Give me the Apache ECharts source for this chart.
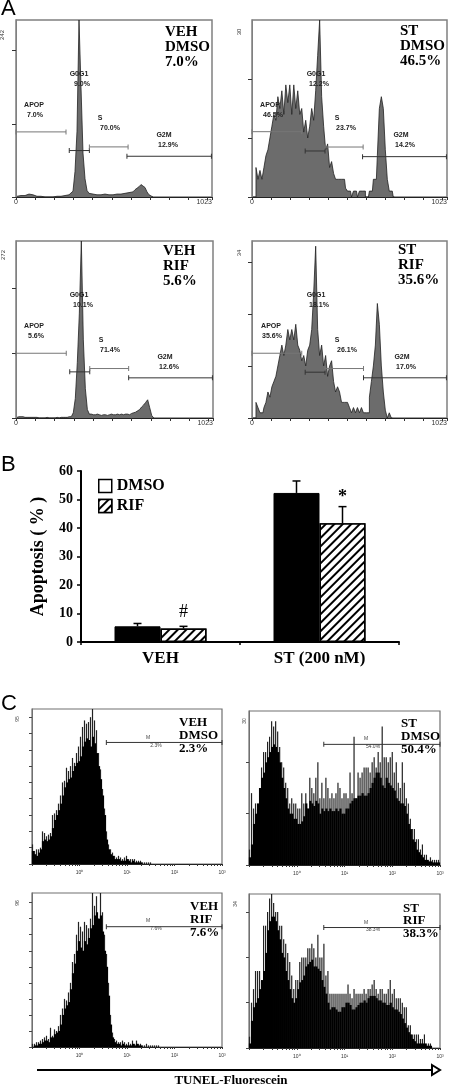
<!DOCTYPE html>
<html><head><meta charset="utf-8">
<style>html,body{margin:0;padding:0;background:#fff}#c{width:450px;height:1086px}</style>
<script src="https://cdn.jsdelivr.net/npm/echarts@6/dist/echarts.min.js"></script>
</head><body><div id="c"></div>
<script>
// Panel A: DNA-content histograms, one count per channel bin (bins start at channel 0)
const aVehDmso=[1,3,2,3,2,3,4,3,3,2,1,1,1,0,0,1,0,0,0,1,1,1,1,2,2,2,3,3,8,35,90,242,150,60,25,9,5,5,4,4,3,4,3,3,4,3,3,4,3,3,4,3,4,4,5,5,6,6,7,10,12,14,17,18,13,7,3,1,0];
const aStDmso=[0,0,5,3,4.5,3,5,7,8,10,12,14,13,17,15,18,14,19,16,19,14,19,15,18,14,15,11,13,10,12,15,13,18,24,30,17,12,8,9,5,6,4,3,3,3,3,3,1.5,1,1,0,1,1,0,1,1,1,0,0,1,1,3,3,7,15,17,15,8,3,1,1,0];
const aVehRif=[1,2,2,2,1,1,1,1,1,1,1,0,0,0,0,1,0,0,0,0,1,0,1,1,1,1,2,2,8,30,85,160,272,120,45,13,6,6,5,5,6,5,4,5,5,4,5,6,5,5,6,5,6,5,6,6,5,7,8,9,11,13,17,20,24,28,16,4,0];
const aStRif=[0,0,3,2,1,1,2,3,5,4,6,7,8,10,12,14,12,14,17,15,17,15,18,14,13,11,12,10,13,14,17,24,33,17,12,14,10,12,8,10,11,7,5,6,5,3,3,3,3,2,1,2,1,2,1,2,1,1,1,4,7,10,14,22,18,10,5,1.5,0,1,0];
const binsA=98;
// Gates: [x start, x end, height]
const gatesVehDmso=[[0,261,89],[278,383,63.5],[383,585,68.5],[579,1020,55.7]];
const gatesStDmso=[[0,261,11.07],[279,383,7.8],[383,583,8.47],[580,1020,6.84]];
const gatesVehRif=[[0,261,99.5],[279,383,70.9],[383,585,76],[585,1020,61.7]];
const gatesStRif=[[0,261,12.44],[279,383,8.8],[383,585,9.5],[585,1020,7.72]];
const ticksA=[[0,100,200],[0,10,20],[0,100,200],[0,10,20,30]];
const maxA=[242,30,272,34];

// Panel B
const groups=['VEH','ST (200 nM)'];
const dmso=[5.5,52.3];
const rif=[4.7,41.7];
const dmsoErrTop=[6.5,56.5];
const rifErrTop=[5.5,47.5];
const rifSig=['#','*'];

// Panel C: TUNEL histograms over 95 log-spaced bins, solid body and spike tops
const cVehDmsoBody=[8,6,5,7,9,14,15,14,15,17,22,27,30,33,37,42,47,50,52,53,57,60,62,63,66,72,75,77,76,72,78,74,68,60,52,42,30,15,9,6,5,3,3,3,2,2,2,3,2,1,2,1,1,1,1];
const cVehDmsoSpike=[12,8,9,9,10,20,19,17,18,19,30,31,33,37,42,50,51,59,57,60,65,62,68,72,78,84,88,86,87,90,95,88,82,68,58,46,34,20,12,9,7,5,4,5,4,3,4,5,3,3,3,3,2,2,2,1,1,1,1,1];
const cStDmsoBody=[1.5,4,8,10,12,15,17,18,20,21,22,23,23.5,23,22,20,17,15,13,11,10,10,9,9,8,8,8.5,9.5,12,11,12.5,12,11.5,12.5,12,10,11,10.5,11,10.5,11,10.5,10.5,11,10.5,11,10,10,11,11,12,12.5,13,13,13.5,13.5,14,13.5,13.5,14,15,16,17,18,18,17,15.5,15,17,16,15.5,15,14.5,13,12.5,12,12,11.5,10,8,7,5,4.5,3,2.5,2,1.5,1,1,.7,.7,.5,.5,.5,.5];
const cStDmsoSpike=[3,14,11,12,11,11,19,22,22,24,25,28,27,28,26,23,20,19,16,15,12,13,12,12,11,11,14,12,14,11,17,15,14,17,20,13,16,13,17,15,13,14,13,14,16,15,13,14,14,13,18,14,25,13,18,17,18,19,19,19,18,20,21,19,22,20,27,21,21,20,21,22,18,20,16,15,20,16,13,12,9,7,7,5,5,3,4,2,2,1,1.5,1,1,1,1];
const cVehRifBody=[0,1,1,2,2,3,4,4,3,6,6,8,9,10,14,20,24,26,28,36,46,52,60,66,62,60,66,64,68,74,76,82,84,80,82,72,60,50,32,14,6,3,2,2,1,2,1,1,1,1,2,1,2,1,1];
const cVehRifSpike=[2,2,3,3,4,5,6,7,5,12,7,11,10,13,20,24,30,29,34,40,53,58,70,78,75,72,78,76,74,80,96,88,94,80,96,84,70,58,40,20,9,5,4,3,3,4,3,2,3,2,4,2,4,2,2,1,1,2,1,1,1,1,1,1];
const cStRifBody=[1,6,9,10,11,13,15,17,21,26,28,29,29,28,26,24,21,20,17,15,13,11,10,11,13,14.5,15,16,18,18.5,19,19.5,18,18,17.5,17,15,13.5,12,10,8.5,9,9,8.5,8,8,9,9,10,10,9.5,8.5,8.5,9,9.5,10,10,10.5,10,11,11.5,11.5,11.5,11,10.5,10.5,10,10,9.5,9.5,10,9,8.5,8.5,8,7.5,6.5,5.5,4.5,3.5,3,2,1.5,1,1,1,1,1,.5,.5,.5];
const cStRifSpike=[2.5,10,13,17,17,17,15,27,27,30,33,34,32,30,30,27,27,24,23,21,19,16,13,15,15,19,20,20,20,22,22,23,22,20,25,20,20,23,16,17,12,12,12,12,12,12,12,12,12,14,12,11,13,12,12,12,12,13,12,13,13,14,15,13,12,13,13,12,12,13,15,12,13,11,11,11,10,9,9,5,5,3,3,3,3,2,2,3,1,1,1];
const binsC=95;
const maxC=[95,30,96,34];
const gateC=[[.565,3,74.5],[.566,3,23.5],[.565,3,75],[.566,3,26.6]];
const ticksC=[[0,10,20,30,40,50,60,70,80,90],[0,10,20],[0,10,20,30,40,50,60,70,80,90],[0,10,20,30]];

const serif='"Liberation Serif"', sans='"Liberation Sans"';
const grid=[],xAxis=[],yAxis=[],series=[],graphic=[];

function txt(x,y,s,font,opt){opt=opt||{};
  graphic.push({type:'text',x,y,rotation:opt.rot||0,silent:true,z:50,style:{text:s,font,fill:opt.fill||'#000',align:opt.align||'center',verticalAlign:'middle'}});
}
function gateSeries(g,gi,color){
  series.push({type:'line',xAxisIndex:gi,yAxisIndex:gi,data:[[g[0],g[2]],[g[1],g[2]]],symbol:'rect',symbolSize:[1,5],
    lineStyle:{color,width:1},itemStyle:{color},silent:true,z:6,animation:false});
}

// ---- Panel A
const aPanels=[
 {d:aVehDmso,g:gatesVehDmso,step:false,box:[16,20,196,177],name:'242',nx:2,ny:35},
 {d:aStDmso,g:gatesStDmso,step:'middle',box:[252,20,196,177],name:'30',nx:239,ny:32},
 {d:aVehRif,g:gatesVehRif,step:false,box:[16,241,197,177],name:'272',nx:3,ny:255},
 {d:aStRif,g:gatesStRif,step:'middle',box:[252,241,197,177],name:'34',nx:239,ny:253}];
aPanels.forEach((p,i)=>{
  grid.push({left:p.box[0],top:p.box[1],width:p.box[2],height:p.box[3],show:true,borderColor:'#808080',borderWidth:1.5,backgroundColor:'#fff'});
  xAxis.push({gridIndex:i,type:'value',min:0,max:1023,interval:100,splitLine:{show:false},
    axisLine:{onZero:false,lineStyle:{color:'#222',width:1}},axisTick:{length:3,lineStyle:{color:'#333'}},
    axisLabel:{customValues:[0,1023],formatter:v=>String(v),alignMaxLabel:'right',fontSize:7,fontFamily:sans,color:'#333',margin:2}});
  yAxis.push({gridIndex:i,type:'value',min:0,max:maxA[i],splitLine:{show:false},
    axisLine:{show:true,onZero:false,lineStyle:{color:'#808080',width:1}},
    axisTick:{show:true,length:4,customValues:ticksA[i],lineStyle:{color:'#333'}},axisLabel:{show:false}});
  series.push({type:'line',xAxisIndex:i,yAxisIndex:i,step:p.step,showSymbol:false,symbol:'none',silent:true,animation:false,
    data:p.d.map((v,k)=>[(k+.5)*1023/binsA,v]),
    lineStyle:{color:'#222',width:.8},areaStyle:{color:'#6c6c6c',opacity:1}});
  p.g.forEach((g,k)=>gateSeries(g,i,k%2?'#333':'#777'));
  txt(p.nx,p.ny,p.name,'6px '+sans,{rot:Math.PI/2,fill:'#333'});
});
// gate captions
const lab='bold 7px '+sans;
[[79,74,'G0G1'],[82,84,'9.0%'],[34,105,'APOP'],[35,115,'7.0%'],[100,118,'S'],[110,128,'70.0%'],[164,135,'G2M'],[168,145,'12.9%'],
 [316,74,'G0G1'],[319,84,'12.2%'],[270,105,'APOP'],[273,115,'46.5%'],[337,118,'S'],[346,128,'23.7%'],[401,135,'G2M'],[405,145,'14.2%'],
 [79,295,'G0G1'],[83,305,'10.1%'],[34,326,'APOP'],[36,336,'5.6%'],[101,340,'S'],[110,350,'71.4%'],[165,357,'G2M'],[169,367,'12.6%'],
 [316,295,'G0G1'],[319,305,'18.1%'],[271,326,'APOP'],[272,336,'35.6%'],[337,340,'S'],[347,350,'26.1%'],[402,357,'G2M'],[406,367,'17.0%']
].forEach(t=>txt(t[0],t[1],t[2],lab,{fill:'#222'}));
const bigA='bold 15px '+serif;
[[165,32,47,62,'VEH','DMSO','7.0%'],[400,31,46,61,'ST','DMSO','46.5%'],[163,251,266,281,'VEH','RIF','5.6%'],[398,250,265,280,'ST','RIF','35.6%']]
 .forEach(t=>{txt(t[0],t[1],t[4],bigA,{align:'left'});txt(t[0],t[2],t[5],bigA,{align:'left'});txt(t[0],t[3],t[6],bigA,{align:'left'});});

// ---- Panel B
const bi=4, barW=46;
grid.push({left:81,top:471,width:318,height:171});
xAxis.push({gridIndex:bi,type:'category',data:groups,axisLine:{lineStyle:{color:'#000',width:2}},
  axisTick:{show:true,length:3,lineStyle:{color:'#000',width:1.5}},
  axisLabel:{margin:8,color:'#000',fontSize:17,fontWeight:'bold',fontFamily:serif}});
yAxis.push({gridIndex:bi,type:'value',min:0,max:60,interval:10,splitLine:{show:false},
  name:'Apoptosis ( % )',nameLocation:'middle',nameRotate:90,nameGap:34,
  nameTextStyle:{fontSize:18,fontWeight:'bold',fontFamily:serif,color:'#000'},
  axisLine:{show:true,lineStyle:{color:'#000',width:2}},axisTick:{show:true,length:4,lineStyle:{color:'#000',width:1.5}},
  axisLabel:{margin:8,color:'#000',fontSize:14,fontWeight:'bold',fontFamily:serif}});
const hatch={symbol:'rect',symbolSize:1,rotation:-Math.PI/4,dashArrayX:[1,0],dashArrayY:[2,3.6],color:'#000',backgroundColor:'#fff'};
series.push({name:'DMSO',type:'bar',xAxisIndex:bi,yAxisIndex:bi,data:dmso,barWidth:barW,barGap:0,animation:false,silent:true,
  itemStyle:{color:'#000',borderColor:'#000',borderWidth:1}});
series.push({name:'RIF',type:'bar',xAxisIndex:bi,yAxisIndex:bi,data:rif,barWidth:barW,barGap:0,animation:false,silent:true,
  itemStyle:{color:'#fff',borderColor:'#000',borderWidth:1.5,decal:hatch}});
function errSeries(tops,side,sig){
  series.push({type:'custom',xAxisIndex:bi,yAxisIndex:bi,silent:true,animation:false,z:5,
    data:tops.map((t,k)=>[k,t,side===1?rif[k]:dmso[k]]),
    renderItem:(params,api)=>{
      const idx=api.value(0),top=api.coord([idx,api.value(1)]),base=api.coord([idx,api.value(2)]);
      const x=top[0]+side*barW/2;
      const st={stroke:'#000',lineWidth:1.5};
      const ch=[{type:'line',shape:{x1:x,y1:base[1],x2:x,y2:top[1]},style:st},
                {type:'line',shape:{x1:x-4,y1:top[1],x2:x+4,y2:top[1]},style:st}];
      if(sig){const s=sig[params.dataIndex];
        ch.push({type:'text',x:x,y:top[1]-(s==='*'?9:14),style:{text:s,font:(s==='*'?'bold 18px ':'18px ')+serif,fill:'#000',align:'center',verticalAlign:'middle'}});}
      return {type:'group',children:ch};
    }});
}
errSeries(dmsoErrTop,-1,null);
errSeries(rifErrTop,1,rifSig);

// ---- Panel C
const cPanels=[
 {b:cVehDmsoBody,s:cVehDmsoSpike,box:[32,709,190,155],name:'95',nx:18,ny:719},
 {b:cStDmsoBody,s:cStDmsoSpike,box:[249,711,191,154],name:'30',nx:245,ny:721},
 {b:cVehRifBody,s:cVehRifSpike,box:[32,893,190,154],name:'96',nx:18,ny:903},
 {b:cStRifBody,s:cStRifSpike,box:[249,894,191,154],name:'34',nx:236,ny:904}];
const logTicks=[];
for(let d=-1;d<3;d++){for(let m=1;m<10;m++){logTicks.push(d+Math.log10(m));}}
logTicks.push(3);
const sup=['\u2070','\u00b9','\u00b2','\u00b3'];
cPanels.forEach((p,j)=>{
  const i=5+j;
  grid.push({left:p.box[0],top:p.box[1],width:p.box[2],height:p.box[3],show:true,borderColor:'#707070',borderWidth:1.2,backgroundColor:'#fff'});
  xAxis.push({gridIndex:i,type:'value',min:-1,max:3,splitLine:{show:false},
    axisLine:{onZero:false,lineStyle:{color:'#222',width:1}},axisTick:{length:2,customValues:logTicks,lineStyle:{color:'#333'}},
    axisLabel:{customValues:[0,1,2,3],formatter:v=>'10'+sup[v],fontSize:5,fontFamily:sans,color:'#333',margin:6}});
  yAxis.push({gridIndex:i,type:'value',min:0,max:maxC[j],splitLine:{show:false},
    axisLine:{show:true,onZero:false,lineStyle:{color:'#707070',width:1}},
    axisTick:{show:true,length:3,customValues:ticksC[j],lineStyle:{color:'#444'}},axisLabel:{show:false}});
  const xOf=k=>-1+(k+.5)*4/binsC;
  series.push({type:'bar',xAxisIndex:i,yAxisIndex:i,barWidth:1.2,barGap:'-100%',silent:true,animation:false,
    data:p.s.map((v,k)=>[xOf(k),v]),itemStyle:{color:'#222'}});
  series.push({type:'bar',xAxisIndex:i,yAxisIndex:i,barWidth:2.2,barGap:'-100%',silent:true,animation:false,
    data:p.b.map((v,k)=>[xOf(k),v]),itemStyle:{color:'#000'}});
  gateSeries(gateC[j],i,'#333');
  txt(p.nx,p.ny,p.name,'5px '+sans,{rot:Math.PI/2,fill:'#444'});
});
const bigC='bold 13px '+serif;
[[179,723,736,749,'VEH','DMSO','2.3%'],[401,724,737,750,'ST','DMSO','50.4%'],[190,907,920,933,'VEH','RIF','7.6%'],[403,909,921,934,'ST','RIF','38.3%']]
 .forEach(t=>{txt(t[0],t[1],t[4],bigC,{align:'left'});txt(t[0],t[2],t[5],bigC,{align:'left'});txt(t[0],t[3],t[6],bigC,{align:'left'});});
const labM='5px '+sans;
[[148,738,'M'],[156,746,'2.3%'],[366,739,'M'],[373,747,'54.0%'],[148,921,'M'],[156,929,'7.6%'],[366,923,'M'],[373,930,'38.3%']]
 .forEach(t=>txt(t[0],t[1],t[2],labM,{fill:'#444'}));

// panel letters
const letter='22px '+sans;
txt(1,9,'A',letter,{align:'left'});txt(1,465,'B',letter,{align:'left'});txt(1,704,'C',letter,{align:'left'});

// TUNEL arrow
graphic.push({type:'line',silent:true,shape:{x1:37,y1:1070,x2:432,y2:1070},style:{stroke:'#000',lineWidth:2}});
graphic.push({type:'polygon',silent:true,shape:{points:[[432,1065],[440,1070],[432,1075]]},style:{stroke:'#000',lineWidth:2,fill:'#fff'}});
txt(231,1081,'TUNEL-Fluorescein','bold 13px '+serif);

const chart=echarts.init(document.getElementById('c'),null,{renderer:'canvas'});
chart.setOption({animation:false,backgroundColor:'#fff',grid,xAxis,yAxis,series,graphic,
  legend:{orient:'vertical',left:98,top:478,padding:0,itemWidth:13,itemHeight:13,itemGap:4,selectedMode:false,
    textStyle:{fontFamily:serif,fontWeight:'bold',fontSize:16,color:'#000'},
    data:[{name:'DMSO',icon:'rect',itemStyle:{color:'#fff',borderColor:'#000',borderWidth:1.5}},
          {name:'RIF',icon:'rect',itemStyle:{color:'#fff',borderColor:'#000',borderWidth:1.5,decal:hatch}}]}
});
</script></body></html>
